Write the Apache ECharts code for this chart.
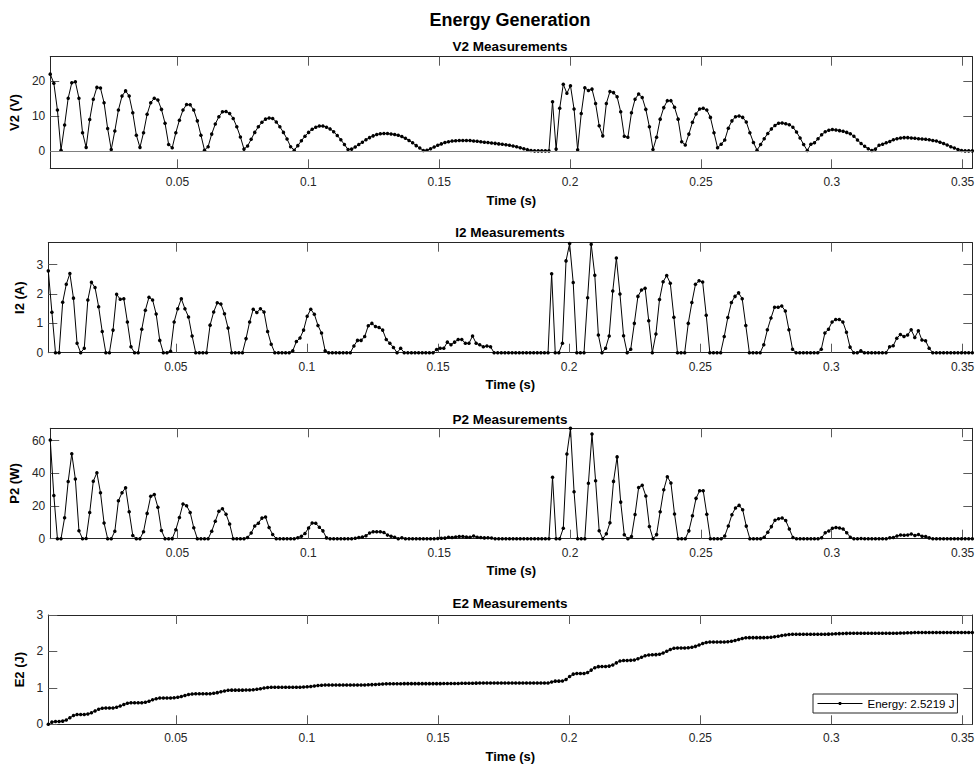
<!DOCTYPE html>
<html><head><meta charset="utf-8">
<script src="https://cdn.jsdelivr.net/npm/echarts@6/dist/echarts.min.js"></script>
<style>html,body{margin:0;padding:0;background:#fff}#c{width:978px;height:767px}</style>
</head><body><div id="c"></div>
<script>
// sample period of the recorded signal (s); first sample at t = dt
const dt = 0.001371;

const V2 = [
 22.0, 19.4, 11.7, 0.2, 7.4, 15.1, 19.5, 19.8, 15.1, 5.2,
 1.0, 9.0, 14.8, 18.2, 18.0, 13.8, 6.4, 0.4, 5.7, 11.7,
 15.7, 17.2, 15.7, 10.9, 4.5, 1.0, 5.2, 10.5, 13.8, 15.1,
 14.6, 11.9, 7.9, 1.8, 0.9, 5.2, 8.8, 11.7, 13.3, 13.2,
 11.7, 8.6, 4.5, 0.2, 1.2, 4.8, 7.7, 9.8, 11.2, 11.3,
 10.7, 9.3, 6.9, 4.0, 0.5, 1.4, 3.3, 5.3, 6.9, 8.2,
 9.1, 9.4, 9.3, 8.3, 6.9, 5.3, 3.4, 1.2, 0.2, 1.5,
 2.9, 4.2, 5.3, 6.2, 6.8, 7.1, 7.1, 6.8, 6.3, 5.5,
 4.4, 3.2, 1.8, 0.4, 0.5, 1.1, 1.8, 2.5, 3.2, 3.8,
 4.3, 4.7, 4.9, 5.0, 4.95, 4.85, 4.7, 4.45, 4.1, 3.6,
 3.0, 2.3, 1.5, 0.8, 0.1, 0.2, 0.6, 1.1, 1.6, 2.0,
 2.4, 2.6, 2.8, 2.9, 3.0, 3.0, 3.0, 2.95, 2.85, 2.75,
 2.6, 2.5, 2.4, 2.25, 2.15, 2.0, 1.9, 1.75, 1.6, 1.4,
 1.2, 0.9, 0.6, 0.35, 0.1, 0, 0, 0, 0, 0,
 14.1, 0.5, 12.2, 19.1, 16.5, 18.7, 12.0, 0.3, 10.7, 18.1,
 17.3, 17.7, 13.6, 7.2, 4.3, 13.6, 17.0, 16.7, 15.5, 11.2,
 4.2, 3.9, 10.9, 14.8, 16.3, 15.3, 11.9, 6.9, 0.4, 3.9,
 9.1, 12.4, 14.4, 14.4, 12.5, 9.1, 2.6, 1.7, 4.8, 8.2,
 10.6, 12.0, 12.2, 11.7, 9.6, 5.2, 0.9, 1.9, 3.1, 6.5,
 8.6, 9.8, 10.0, 9.6, 8.3, 5.2, 2.4, 0.2, 1.8, 3.5,
 5.0, 6.3, 7.3, 7.9, 8.0, 7.8, 7.5, 6.8, 5.4, 3.7,
 1.8, 0.1, 1.9, 2.3, 3.5, 4.6, 5.5, 5.9, 6.1, 6.0,
 5.8, 5.6, 5.3, 4.9, 4.2, 3.1, 2.1, 1.3, 0.6, 0.1,
 0.5, 1.6, 1.9, 2.3, 2.7, 3.2, 3.5, 3.7, 3.8, 3.8,
 3.7, 3.6, 3.5, 3.4, 3.3, 3.2, 3.0, 2.8, 2.5, 2.1,
 1.7, 1.2, 0.8, 0.4, 0.1, 0, 0, 0
];

const I2 = [
 2.79, 1.38, 0, 0, 1.72, 2.33, 2.7, 1.86, 0.32, 0,
 0.15, 1.8, 2.4, 2.22, 1.57, 0.72, 0, 0, 0.77, 1.99,
 1.82, 1.84, 1.05, 0.2, 0, 0, 0.8, 1.45, 1.89, 1.8,
 1.32, 0.42, 0, 0, 0.05, 1.05, 1.5, 1.84, 1.5, 1.22,
 0.57, 0, 0, 0, 0, 0.94, 1.39, 1.7, 1.66, 1.33,
 0.84, 0, 0, 0, 0, 0.48, 1.05, 1.48, 1.37, 1.5,
 1.39, 0.72, 0.29, 0, 0, 0, 0, 0, 0.07, 0.38,
 0.5, 0.77, 1.24, 1.48, 1.31, 0.93, 0.67, 0.07, 0, 0,
 0, 0, 0, 0, 0, 0.23, 0.42, 0.42, 0.55, 0.92,
 1.0, 0.89, 0.86, 0.77, 0.45, 0.32, 0.18, 0, 0.15, 0,
 0, 0, 0, 0, 0, 0, 0, 0, 0.11, 0.15,
 0.15, 0.36, 0.27, 0.36, 0.45, 0.45, 0.32, 0.32, 0.57, 0.32,
 0.27, 0.2, 0.23, 0.2, 0, 0, 0, 0, 0, 0,
 0, 0, 0, 0, 0, 0, 0, 0, 0, 0,
 2.69, 0, 0, 0.32, 3.13, 3.72, 2.39, 0, 0, 0,
 1.87, 3.7, 2.64, 0.6, 0, 0.15, 0.57, 2.1, 3.23, 2.0,
 0.58, 0, 0.12, 1.0, 1.92, 2.14, 2.2, 1.09, 0, 0.64,
 1.81, 2.42, 2.63, 2.37, 1.21, 0, 0, 0, 1.0, 1.71,
 2.33, 2.45, 2.41, 1.28, 0, 0, 0, 0, 0.55, 1.2,
 1.71, 1.92, 2.04, 1.84, 0.93, 0, 0, 0, 0, 0.27,
 0.78, 1.18, 1.55, 1.55, 1.59, 1.42, 0.78, 0.12, 0, 0,
 0, 0, 0, 0, 0, 0.12, 0.67, 0.8, 1.05, 1.13,
 1.13, 1.05, 0.7, 0.19, 0, 0, 0.07, 0, 0, 0,
 0, 0, 0, 0, 0.2, 0.24, 0.49, 0.62, 0.55, 0.6,
 0.78, 0.52, 0.75, 0.43, 0.41, 0.15, 0, 0, 0, 0,
 0, 0, 0, 0, 0, 0, 0, 0
];

const P2 = [
 60.5, 26.5, 0, 0, 12.8, 35.0, 52.0, 36.5, 4.9, 0,
 0.15, 16.0, 35.2, 40.4, 28.2, 9.6, 0, 0, 4.5, 23.2,
 28.2, 31.2, 16.5, 2.0, 0, 0, 4.3, 15.5, 26.0, 27.0,
 19.3, 5.0, 0, 0, 0.05, 5.5, 13.0, 21.3, 20.2, 16.1,
 6.7, 0, 0, 0, 0, 4.5, 10.7, 16.8, 18.4, 15.0,
 9.0, 0, 0, 0, 0, 0.7, 3.5, 7.8, 9.5, 12.6,
 13.3, 6.8, 2.6, 0, 0, 0, 0, 0, 0.01, 0.6,
 1.5, 3.2, 6.6, 9.6, 9.4, 7.0, 4.8, 0.5, 0, 0,
 0, 0, 0, 0, 0, 0.25, 0.76, 1.05, 1.76, 3.5,
 4.3, 4.2, 4.2, 3.85, 2.2, 1.55, 0.85, 0, 0.6, 0,
 0, 0, 0, 0, 0, 0, 0, 0, 0.18, 0.3,
 0.36, 0.94, 0.76, 1.04, 1.35, 1.35, 0.96, 0.93, 1.62, 0.88,
 0.7, 0.5, 0.55, 0.45, 0, 0, 0, 0, 0, 0,
 0, 0, 0, 0, 0, 0, 0, 0, 0, 0,
 37.6, 0, 0, 6.4, 51.9, 67.6, 28.8, 0, 0, 0,
 33.9, 64.1, 35.5, 4.9, 0, 3.0, 9.7, 35.1, 50.1, 22.4,
 2.4, 0, 1.3, 14.8, 31.3, 32.7, 26.2, 7.5, 0, 2.5,
 16.5, 30.0, 37.9, 34.1, 15.1, 0, 0, 0, 4.8, 14.0,
 24.7, 29.4, 29.4, 15.0, 0, 0, 0, 0, 1.7, 7.8,
 14.7, 18.8, 20.4, 17.7, 7.7, 0, 0, 0, 0, 0.95,
 3.9, 7.4, 11.3, 12.2, 12.7, 11.1, 5.9, 0.8, 0, 0,
 0, 0, 0, 0, 0, 0.55, 3.7, 4.7, 6.4, 6.8,
 6.6, 5.9, 3.7, 0.9, 0, 0, 0.15, 0, 0, 0,
 0, 0, 0, 0, 0.54, 0.77, 1.7, 2.3, 2.1, 2.3,
 2.9, 1.9, 2.6, 1.5, 1.35, 0.5, 0, 0, 0, 0,
 0, 0, 0, 0, 0, 0, 0, 0
];

const E2 = [
 0, 0.06, 0.078, 0.078, 0.087, 0.12, 0.179, 0.239, 0.267, 0.27,
 0.27, 0.281, 0.316, 0.368, 0.415, 0.441, 0.447, 0.447, 0.45, 0.469,
 0.504, 0.544, 0.576, 0.589, 0.59, 0.59, 0.593, 0.607, 0.635, 0.671,
 0.703, 0.72, 0.723, 0.723, 0.723, 0.727, 0.74, 0.763, 0.791, 0.816,
 0.832, 0.837, 0.837, 0.837, 0.837, 0.84, 0.85, 0.869, 0.893, 0.916,
 0.932, 0.938, 0.938, 0.938, 0.938, 0.939, 0.942, 0.949, 0.961, 0.976,
 0.994, 1.008, 1.014, 1.016, 1.016, 1.016, 1.016, 1.016, 1.016, 1.017,
 1.018, 1.021, 1.028, 1.039, 1.052, 1.064, 1.072, 1.076, 1.076, 1.076,
 1.076, 1.076, 1.076, 1.076, 1.076, 1.076, 1.077, 1.078, 1.08, 1.084,
 1.089, 1.095, 1.101, 1.106, 1.11, 1.113, 1.114, 1.115, 1.115, 1.116,
 1.116, 1.116, 1.116, 1.116, 1.116, 1.116, 1.116, 1.116, 1.116, 1.116,
 1.117, 1.118, 1.119, 1.12, 1.122, 1.124, 1.125, 1.127, 1.128, 1.13,
 1.131, 1.132, 1.132, 1.133, 1.133, 1.133, 1.133, 1.133, 1.133, 1.133,
 1.133, 1.133, 1.133, 1.133, 1.133, 1.133, 1.133, 1.133, 1.133, 1.133,
 1.159, 1.185, 1.185, 1.189, 1.229, 1.311, 1.377, 1.397, 1.397, 1.397,
 1.42, 1.487, 1.555, 1.583, 1.586, 1.588, 1.597, 1.628, 1.686, 1.736,
 1.753, 1.754, 1.755, 1.766, 1.798, 1.842, 1.882, 1.905, 1.91, 1.912,
 1.925, 1.957, 2.003, 2.053, 2.086, 2.097, 2.097, 2.097, 2.1, 2.113,
 2.139, 2.176, 2.217, 2.247, 2.257, 2.257, 2.257, 2.257, 2.258, 2.265,
 2.28, 2.303, 2.33, 2.356, 2.373, 2.379, 2.379, 2.379, 2.379, 2.379,
 2.383, 2.39, 2.403, 2.419, 2.436, 2.452, 2.464, 2.469, 2.469, 2.469,
 2.469, 2.469, 2.469, 2.469, 2.469, 2.47, 2.472, 2.475, 2.479, 2.484,
 2.489, 2.493, 2.496, 2.498, 2.499, 2.499, 2.499, 2.499, 2.499, 2.499,
 2.499, 2.499, 2.499, 2.499, 2.4995, 2.5, 2.502, 2.505, 2.508, 2.511,
 2.514, 2.517, 2.519, 2.5205, 2.5213, 2.5218, 2.5219, 2.5219, 2.5219, 2.5219,
 2.5219, 2.5219, 2.5219, 2.5219, 2.5219, 2.5219, 2.5219, 2.5219
];

const xTicks = [0.05, 0.1, 0.15, 0.2, 0.25, 0.3, 0.35];
const V2Ticks = [0, 10, 20];
const I2Ticks = [0, 1, 2, 3];
const P2Ticks = [0, 20, 40, 60];
const E2Ticks = [0, 1, 2, 3];
const energyLabel = 'Energy: 2.5219 J';

const time = V2.map((_, i) => Number(((i + 1) * dt).toFixed(6)));

const FONT = '"Liberation Sans", Arial, Helvetica, sans-serif';
const AX = '#262626';

const panels = [
  { yName: 'V2 (V)', title: 'V2 Measurements', data: V2, min: -5, max: 27, ticks: V2Ticks, top: 56.7, h: 111.6, titleY: 46.7 },
  { yName: 'I2 (A)', title: 'I2 Measurements', data: I2, min: 0, max: 3.75, ticks: I2Ticks, top: 242.7, h: 110, titleY: 232.5 },
  { yName: 'P2 (W)', title: 'P2 Measurements', data: P2, min: 0, max: 67.6, ticks: P2Ticks, top: 428.3, h: 110.4, titleY: 419 },
  { yName: 'E2 (J)', title: 'E2 Measurements', data: E2, min: 0, max: 3, ticks: E2Ticks, top: 615, h: 109.3, titleY: 603.5 }
];

const gridLeft = 48.3, gridW = 924;
const tMin = time[0], tMax = time[time.length - 1];

const grid = [], xAxis = [], yAxis = [], series = [];
const graphic = [{
  type: 'text', x: 510, y: 19.5,
  style: { text: 'Energy Generation', font: 'bold 18px ' + FONT, fill: '#000', align: 'center', verticalAlign: 'middle' }
}];

panels.forEach((p, i) => {
  grid.push({ left: gridLeft, top: p.top, width: gridW, height: p.h, containLabel: false });
  const baseLine = { show: true, onZero: false, lineStyle: { color: AX, width: 1 } };
  const tickStyle = { color: '#5a5a5a', width: 1 };
  xAxis.push({
    gridIndex: i, type: 'value', min: tMin, max: tMax, position: 'bottom',
    axisLine: baseLine,
    axisTick: { show: true, inside: true, length: 9, customValues: xTicks, lineStyle: tickStyle },
    axisLabel: { show: true, customValues: xTicks, margin: 8, fontSize: 12, color: AX, fontFamily: FONT },
    splitLine: { show: false },
    name: 'Time (s)', nameLocation: 'middle', nameGap: 32,
    nameTextStyle: { fontWeight: 'bold', fontSize: 13, color: '#000', fontFamily: FONT, verticalAlign: 'middle' }
  });
  xAxis.push({
    gridIndex: i, type: 'value', min: tMin, max: tMax, position: 'top',
    axisLine: baseLine,
    axisTick: { show: true, inside: true, length: 9, customValues: xTicks, lineStyle: tickStyle },
    axisLabel: { show: false }, splitLine: { show: false }
  });
  yAxis.push({
    gridIndex: i, type: 'value', min: p.min, max: p.max, position: 'left',
    axisLine: baseLine,
    axisTick: { show: true, inside: true, length: 9, customValues: p.ticks, lineStyle: tickStyle },
    axisLabel: { show: true, customValues: p.ticks, margin: 5, fontSize: 12, color: AX, fontFamily: FONT },
    splitLine: { show: false },
    name: p.yName, nameLocation: 'middle', nameGap: 27,
    nameTextStyle: { fontWeight: 'bold', fontSize: 13, color: '#000', fontFamily: FONT, verticalAlign: 'middle' }
  });
  yAxis.push({
    gridIndex: i, type: 'value', min: p.min, max: p.max, position: 'right',
    axisLine: baseLine,
    axisTick: { show: true, inside: true, length: 9, customValues: p.ticks, lineStyle: tickStyle },
    axisLabel: { show: false }, splitLine: { show: false }
  });
  const s = {
    type: 'line', name: i === 3 ? energyLabel : p.title,
    xAxisIndex: 2 * i, yAxisIndex: 2 * i,
    data: time.map((t, k) => [t, p.data[k]]),
    symbol: 'circle', symbolSize: 3.5, showSymbol: true, showAllSymbol: true,
    lineStyle: { color: '#000', width: 1 }, itemStyle: { color: '#000' },
    emphasis: { disabled: true }, animation: false, silent: true
  };
  if (i === 0) {
    s.markLine = {
      silent: true, symbol: ['none', 'none'], animation: false,
      label: { show: false },
      lineStyle: { color: '#808080', width: 1, type: 'solid' },
      data: [{ yAxis: 0 }]
    };
    s.z = 3;
  }
  series.push(s);
  graphic.push({
    type: 'text', x: 510, y: p.titleY,
    style: { text: p.title, font: 'bold 13.5px ' + FONT, fill: '#000', align: 'center', verticalAlign: 'middle' }
  });
});

const chart = echarts.init(document.getElementById('c'), null, { renderer: 'svg', width: 978, height: 767 });
chart.setOption({
  animation: false,
  backgroundColor: '#fff',
  textStyle: { fontFamily: FONT },
  grid, xAxis, yAxis, series, graphic,
  legend: {
    data: [energyLabel], left: 813, top: 694,
    padding: [3, 3, 3, 4], itemWidth: 45, itemHeight: 4, itemGap: 4,
    lineStyle: { width: 1, color: '#000' },
    itemStyle: { color: '#000' },
    textStyle: { fontSize: 11.5, color: '#000', fontFamily: FONT, lineHeight: 13 },
    borderColor: AX, borderWidth: 1, backgroundColor: '#fff', selectedMode: false
  }
});
</script>
</body></html>
